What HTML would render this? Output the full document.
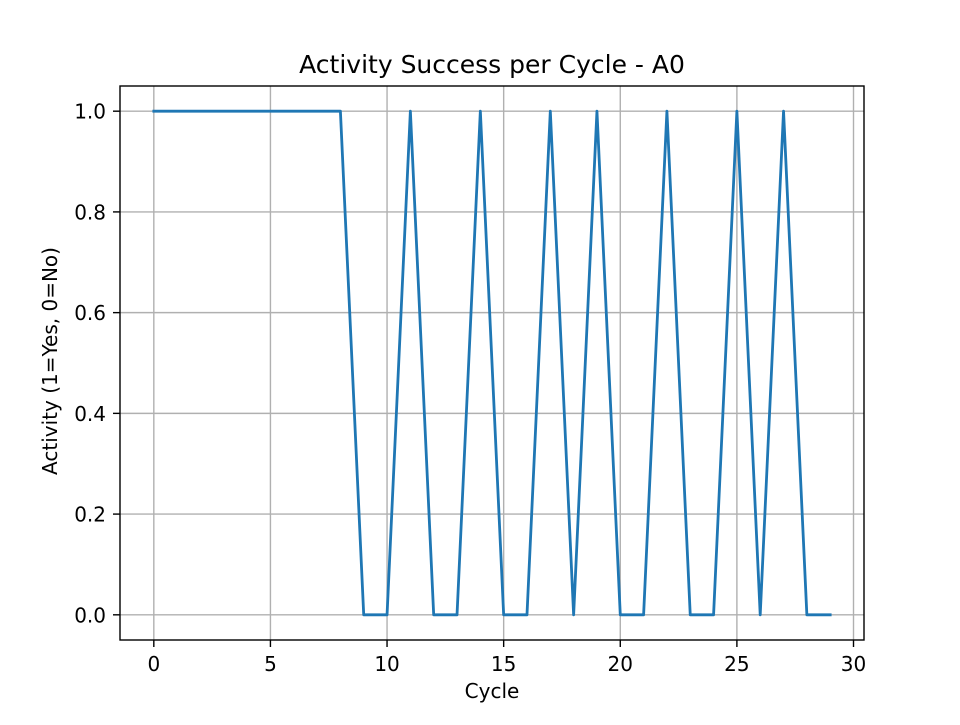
<!DOCTYPE html>
<html><head><meta charset="utf-8"><style>
body{margin:0;background:#fff;}
svg text{font-family:"DejaVu Sans","Liberation Sans",sans-serif;fill:#000;}
</style></head><body>
<svg id="chart" width="960" height="720" xmlns="http://www.w3.org/2000/svg">
<rect width="960" height="720" fill="#fff"/>
<g id="grid"></g>
<g id="ticks"></g>
<path id="line" fill="none" stroke="#1f77b4" stroke-width="2.8" stroke-linejoin="round" stroke-linecap="square"/>
<rect x="120" y="86" width="744" height="554" fill="none" stroke="#000" stroke-width="1.4"/>
<text x="492" y="73" font-size="25" text-anchor="middle">Activity Success per Cycle - A0</text>
<text x="492" y="698" font-size="20" text-anchor="middle">Cycle</text>
<text x="0" y="0" font-size="20" text-anchor="middle" transform="translate(57,361) rotate(-90)">Activity (1=Yes, 0=No)</text>
</svg>
<script>
const cycles=[0,1,2,3,4,5,6,7,8,9,10,11,12,13,14,15,16,17,18,19,20,21,22,23,24,25,26,27,28,29];
const activity=[1,1,1,1,1,1,1,1,1,0,0,1,0,0,1,0,0,1,0,1,0,0,1,0,0,1,0,1,0,0];
const xTicks=[0,5,10,15,20,25,30];
const yTicks=[0,0.2,0.4,0.6,0.8,1.0];
const yTickLabels=["0.0","0.2","0.4","0.6","0.8","1.0"];
const L=120,R=864,T=86,B=640,xmin=-1.45,xmax=30.45,ymin=-0.05,ymax=1.05;
const X=v=>L+(v-xmin)/(xmax-xmin)*(R-L);
const Y=v=>B-(v-ymin)/(ymax-ymin)*(B-T);
const NS="http://www.w3.org/2000/svg";
const grid=document.getElementById('grid'),ticks=document.getElementById('ticks');
function mk(tag,attrs,parent,txt){const e=document.createElementNS(NS,tag);for(const k in attrs)e.setAttribute(k,attrs[k]);if(txt!==undefined)e.textContent=txt;parent.appendChild(e);return e;}
xTicks.forEach(t=>{const x=X(t);
 const g=mk('line',{x1:x,x2:x,y1:T,y2:B,stroke:'#b0b0b0','stroke-width':1.4},grid);
 
 
 const k=mk('line',{x1:x,x2:x,y1:B,y2:B+7,stroke:'#000','stroke-width':1.4},ticks);
 
 
 const l=mk('text',{x:x,y:B+31,'font-size':20,'text-anchor':'middle'},ticks,String(t));
 
 
});
yTicks.forEach((t,i)=>{const y=Y(t);
 const g=mk('line',{x1:L,x2:R,y1:y,y2:y,stroke:'#b0b0b0','stroke-width':1.4},grid);
 
 
 const k=mk('line',{x1:L-7,x2:L,y1:y,y2:y,stroke:'#000','stroke-width':1.4},ticks);
 
 
 const l=mk('text',{x:L-14,y:y+7.5,'font-size':20,'text-anchor':'end'},ticks,yTickLabels[i]);
 
 
});
document.getElementById('line').setAttribute('d',cycles.map((c,i)=>(i?'L':'M')+X(c).toFixed(2)+','+Y(activity[i]).toFixed(2)).join(''));
</script>
</body></html>
